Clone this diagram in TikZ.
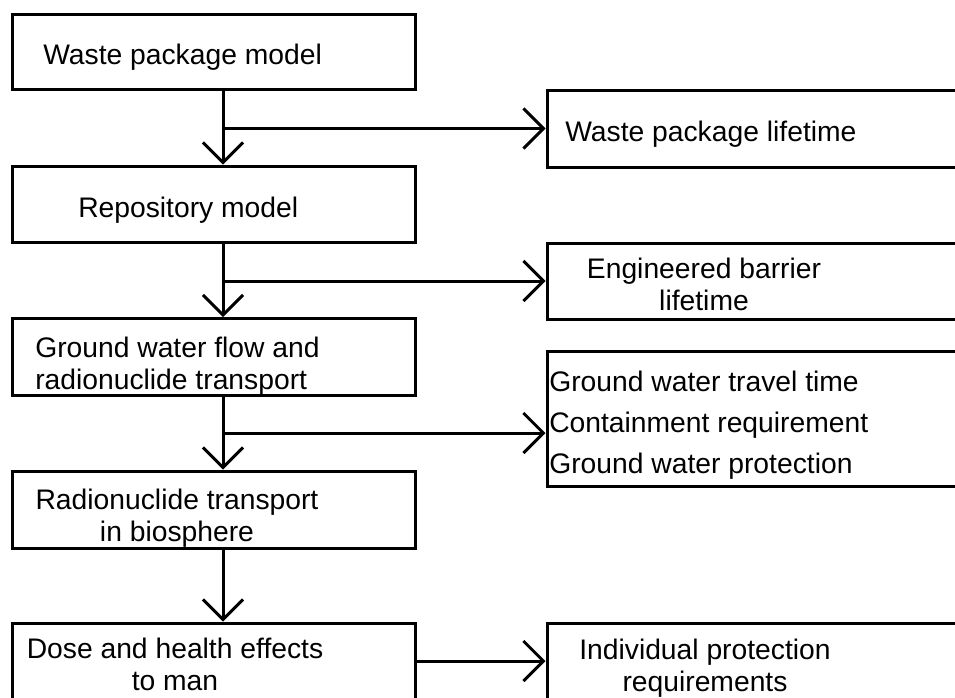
\documentclass[tikz,border=0pt]{standalone}
\usepackage{fontspec}
\setmainfont{Liberation Sans}
\usetikzlibrary{arrows.meta}
\newlength\px
\setlength\px{0.75pt}

\begin{document}
\begin{tikzpicture}[
    x=\px, y=-\px,
    box/.style={
        rectangle,
        draw,
        line width=2.25pt,
        inner sep=0pt,
        minimum width=403\px
    },
    sidebox/.style={box, minimum width=433\px},
    txt/.style={font=\fontsize{21.2}{23.3}\selectfont, inner sep=0pt, anchor=base west},
    flow/.style={line width=2.25pt, -{Straight Barb[length=15pt, width=30pt]}}
]

\useasboundingbox (0,0) rectangle (955,697);
\clip (0,0) rectangle (955,697);

% Model chain (left)
\node[box, minimum height=75\px] (b1) at (213.5, 51.5) {};
\node[box, minimum height=76\px] (b2) at (213.5, 204) {};
\node[box, minimum height=77\px] (b3) at (213.5, 357) {};
\node[box, minimum height=77\px] (b4) at (213.5, 509.5) {};
\node[box, minimum height=76\px] (b5) at (213.5, 661) {};

% (multi-line texts sit on their last baseline)
\node[txt] (t1) at (43, 64) {Waste package model};
\node[txt] (t2) at (78, 217) {Repository model};
\node[txt, align=left] (t3) at (35, 389) {Ground water flow and\\radionuclide transport};
\node[txt, align=center, anchor=base] (t4) at (177, 541) {Radionuclide transport\\in biosphere};
\node[txt, align=center, anchor=base] (t5) at (175, 690) {Dose and health effects\\to man};

% Results (right)
\node[sidebox, minimum height=77\px] (r1) at (763.5, 128.5) {};
\node[sidebox, minimum height=76\px] (r2) at (763.5, 281) {};
\node[sidebox, minimum height=135\px] (r3) at (763.5, 418.5) {};
\node[sidebox, minimum height=76\px] (r4) at (763.5, 661) {};

\node[txt] (s1) at (565, 141) {Waste package lifetime};
\node[txt, align=center, anchor=base] (s2) at (704, 310) {Engineered barrier\\lifetime};
\node[txt, align=left, font=\fontsize{21.2}{30.75}\selectfont] (s3) at (549, 473)
    {Ground water travel time\\Containment requirement\\Ground water protection};
\node[txt, align=center, anchor=base] (s4) at (705, 691) {Individual protection\\requirements};

% Connectors
\coordinate (trunk) at (223, 0);
\coordinate (c3) at ([yshift=-10.875pt]r3.west);

\draw[flow] (b1.south -| trunk) -- (b2.north -| trunk);
\draw[flow] (b2.south -| trunk) -- (b3.north -| trunk);
\draw[flow] (b3.south -| trunk) -- (b4.north -| trunk);
\draw[flow] (b4.south -| trunk) -- (b5.north -| trunk);

\draw[flow] (trunk |- r1.west) -- (r1.west);
\draw[flow] (trunk |- r2.west) -- (r2.west);
\draw[flow] (trunk |- c3) -- (c3);
\draw[flow] (b5.east) -- (r4.west);

\end{tikzpicture}
\end{document}
